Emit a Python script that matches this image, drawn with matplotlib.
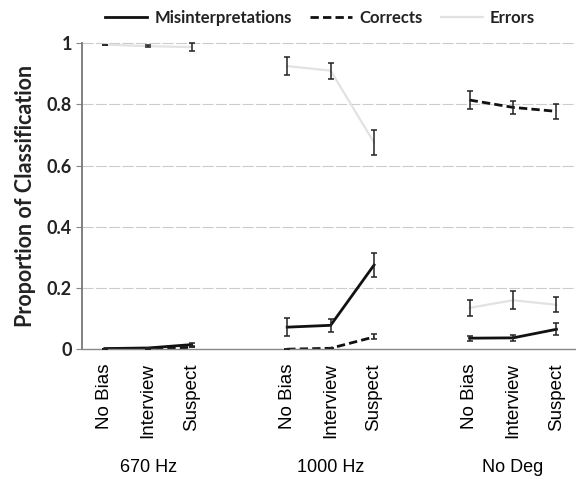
import matplotlib
matplotlib.use("Agg")
import matplotlib.pyplot as plt
import numpy as np
from matplotlib.lines import Line2D

groups = ["670 Hz", "1000 Hz", "No Deg"]
conditions = ["No Bias", "Interview", "Suspect"]

mis = [[0.002, 0.004, 0.015], [0.072, 0.078, 0.275], [0.036, 0.037, 0.065]]
mis_err = [[0.0, 0.0, 0.005], [0.03, 0.022, 0.038], [0.008, 0.01, 0.02]]
cor = [[0.0, 0.002, 0.006], [0.0, 0.003, 0.04], [0.814, 0.79, 0.777]]
cor_err = [[0.0, 0.0, 0.0], [0.0, 0.0, 0.008], [0.03, 0.02, 0.025]]
errs = [[0.995, 0.99, 0.987], [0.925, 0.91, 0.675], [0.135, 0.16, 0.145]]
errs_err = [[0.0, 0.003, 0.012], [0.03, 0.026, 0.042], [0.027, 0.03, 0.025]]

offsets = [0.0, 4.2, 8.4]

fig = plt.figure(figsize=(5.76, 4.79), dpi=100)
ax = fig.add_axes([0.142, 0.271, 0.858, 0.639])
ax.set_xlim(-0.53, 10.85)
ax.set_ylim(0, 1)

for yv in [0.2, 0.4, 0.6, 0.8, 1.0]:
    ax.axhline(yv, color="#cccccc", lw=0.8, ls=(0, (10, 2)), zorder=0, clip_on=False)

ticks = []
ticklabels = []
for gi, off in enumerate(offsets):
    xs = np.arange(3) + off
    ticks.extend(xs)
    ticklabels.extend(conditions)
    ax.plot(xs, errs[gi], color="#e2e2e2", lw=1.6, zorder=1, clip_on=False)
    ax.errorbar(xs, errs[gi], yerr=errs_err[gi], fmt="none", ecolor="#222222",
                elinewidth=1.1, capsize=2.5, capthick=1.1, zorder=3, clip_on=False)
    ax.plot(xs, cor[gi], color="#111111", lw=2.0, ls=(0, (3, 1.5)), zorder=2)
    ax.errorbar(xs, cor[gi], yerr=cor_err[gi], fmt="none", ecolor="#222222",
                elinewidth=1.1, capsize=2.5, capthick=1.1, zorder=3)
    ax.plot(xs, mis[gi], color="#111111", lw=2.0, zorder=2)
    ax.errorbar(xs, mis[gi], yerr=mis_err[gi], fmt="none", ecolor="#222222",
                elinewidth=1.1, capsize=2.5, capthick=1.1, zorder=3)

ax.set_xticks(ticks)
ax.set_xticklabels(ticklabels, rotation=90, family="Liberation Sans", fontsize=13.5)
ax.tick_params(axis="x", length=0, pad=10)
ax.set_yticks([0, 0.2, 0.4, 0.6, 0.8, 1.0])
ax.set_yticklabels(["0", "0.2", "0.4", "0.6", "0.8", "1"], family="Lato",
                   fontweight="bold", fontsize=13, color="#222222")
ax.tick_params(axis="y", length=4, color="#888888", width=0.8, pad=3)

for s in ["top", "right"]:
    ax.spines[s].set_visible(False)
ax.spines["left"].set_color("#777777")
ax.spines["left"].set_linewidth(1.3)
ax.spines["bottom"].set_color("#888888")
ax.spines["bottom"].set_linewidth(1.0)

ax.set_ylabel("Proportion of Classification", family="Lato", fontweight="bold",
              fontsize=15.5, color="#222222", labelpad=8)

for gi, off in enumerate(offsets):
    ax.text(off + 1, -0.385, groups[gi], transform=ax.transData, ha="center",
            va="center", family="Liberation Sans", fontsize=13, clip_on=False)

handles = [Line2D([], [], color="#111111", lw=2.0),
           Line2D([], [], color="#111111", lw=2.0, ls=(0, (3, 1.5))),
           Line2D([], [], color="#e2e2e2", lw=1.6)]
labels = ["Misinterpretations", "Corrects", "Errors"]
leg = fig.legend(handles, labels, loc="center", bbox_to_anchor=(0.556, 0.963), ncol=3,
                 frameon=False, handlelength=2.5, columnspacing=1.1, handletextpad=0.45,
                 prop={"family": "Lato", "weight": "bold", "size": 12})
for t in leg.get_texts():
    t.set_color("#222222")

fig.savefig("out.png", dpi=100)
